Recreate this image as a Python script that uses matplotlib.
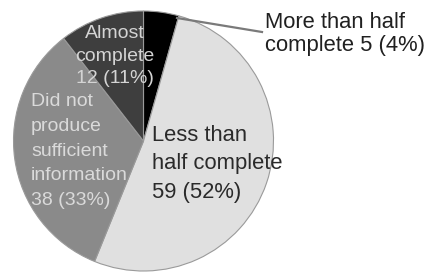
import matplotlib
matplotlib.use("Agg")
import matplotlib.pyplot as plt

# slice data, clockwise from 12 o'clock
labels = ["More than half complete", "Less than half complete",
          "Did not produce sufficient information", "Almost complete"]
counts = [5, 59, 38, 12]
percents = [4, 52, 33, 11]
colors = ["#000000", "#e0e0e0", "#8a8a8a", "#3e3e3e"]

W, H = 431, 272
plt.rcParams["font.family"] = ["Liberation Sans", "DejaVu Sans"]

fig = plt.figure(figsize=(W / 100, H / 100), dpi=100)
ax = fig.add_axes([0, 0, 1, 1])

# y axis is flipped, so counterclock=True draws clockwise on screen
# and startangle -90 points at the top of the picture
cx, cy, r = 143.5, 141, 130
ax.pie(counts, colors=colors, startangle=-90, counterclock=True,
       center=(cx, cy), radius=r, frame=True,
       wedgeprops=dict(edgecolor="#9a9a9a", linewidth=0.8))
ax.set_xlim(0, W)
ax.set_ylim(H, 0)
ax.set_aspect("equal")
ax.axis("off")


def lab(i):
    return f"{counts[i]} ({percents[i]}%)"


big = 15.8
small = 14.0

ax.text(115, 56, "Almost\ncomplete\n" + lab(3), ha="center", va="center",
        fontsize=small, color="#d4d4d4", linespacing=1.45)

ax.text(31, 151, "Did not\nproduce\nsufficient\ninformation\n" + lab(2),
        ha="left", va="center", fontsize=small, color="#dadada",
        linespacing=1.6)

ax.text(152, 164, "Less than\nhalf complete\n" + lab(1), ha="left",
        va="center", fontsize=big, color="#2a2a2a", linespacing=1.45)

ax.text(265, 34, "More than half\ncomplete " + lab(0), ha="left",
        va="center", fontsize=big, color="#202020", linespacing=1.15)
ax.plot([177, 262], [18, 32], color="#7a7a7a", linewidth=1.6)

fig.savefig("out.png", dpi=100)
